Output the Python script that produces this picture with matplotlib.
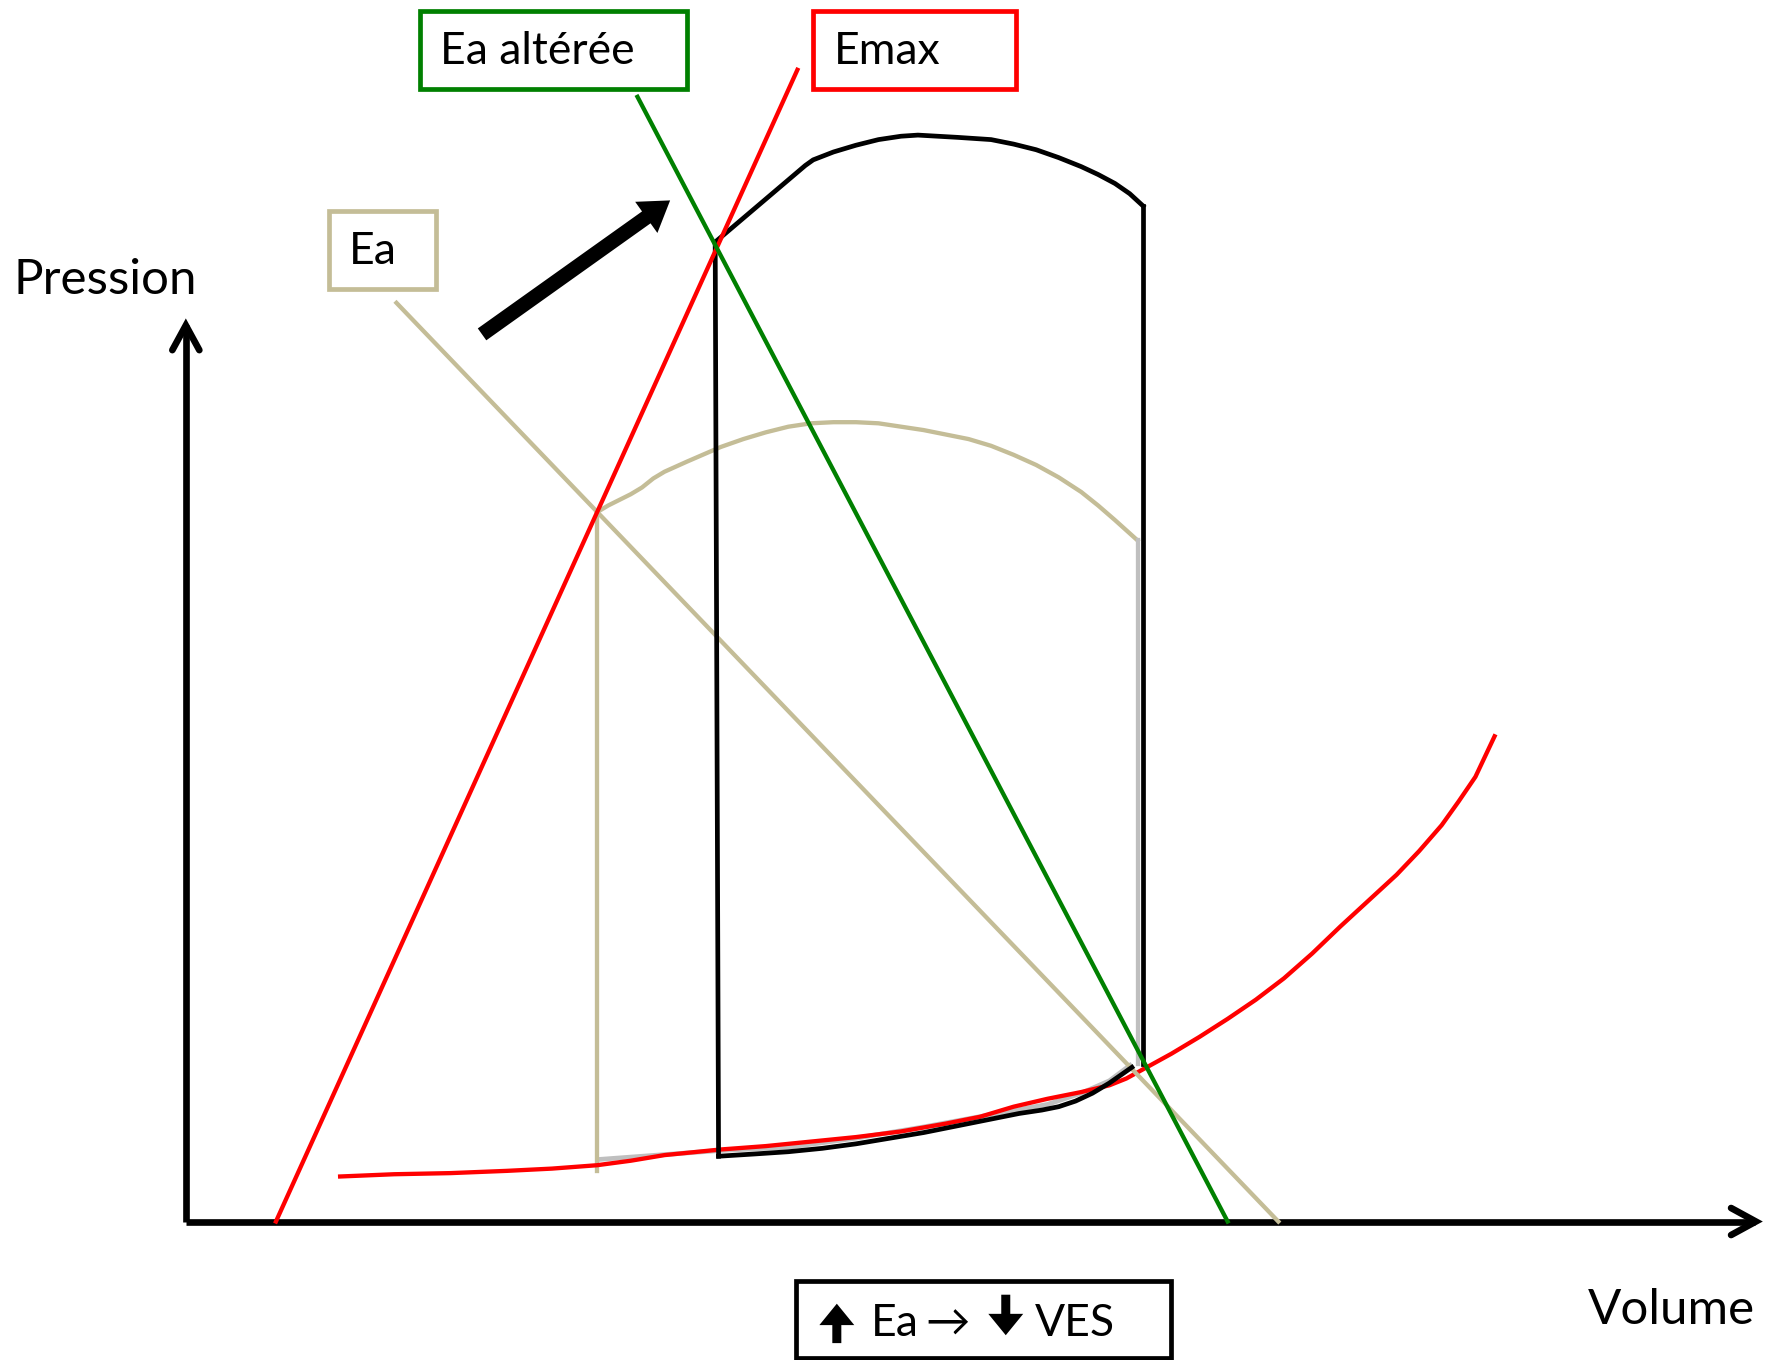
import matplotlib
matplotlib.use("Agg")
import matplotlib.pyplot as plt
from matplotlib.patches import Rectangle, FancyArrow

plt.rcParams['font.family'] = ['Lato', 'DejaVu Sans']

# ---- data (diagram coordinates, x = volume, y = pressure, y downward) ----
emax_x = [245, 708]
emax_y = [1085, 62]

ea_alt_x = [566, 1090]
ea_alt_y = [86, 1085]

ea_x = [352, 1135]
ea_y = [269, 1085]

edpvr_x = [302, 350, 400, 450, 490, 530, 560, 590, 610, 640, 680, 720, 760, 800, 840, 870,
           900, 930, 960, 985, 1000, 1020, 1040, 1065, 1090, 1115, 1140, 1165, 1190, 1215,
           1240, 1260, 1280, 1295, 1310, 1327]
edpvr_y = [1045, 1043, 1042, 1040, 1038, 1035, 1031, 1026, 1024, 1021, 1018, 1014, 1010, 1005,
           998, 992, 983, 976, 970, 964, 958, 947, 936, 921, 905, 888, 869, 847, 823, 800,
           777, 756, 733, 712, 690, 654]

# altered loop (black)
alt_eject_x = [635, 715, 722, 740, 760, 780, 800, 815, 850, 880, 900, 920, 940, 960, 975,
               990, 1003, 1015]
alt_eject_y = [215, 147, 142, 135, 129, 124, 121, 120, 122, 124, 128, 133, 140, 148, 155,
               163, 172, 183]
alt_fill_x = [638, 670, 700, 730, 760, 790, 820, 850, 880, 905, 925, 940, 955, 970, 985, 1005]
alt_fill_y = [1027, 1025, 1023, 1020, 1016, 1011, 1006, 1000, 994, 989, 986, 983, 978, 971,
              962, 948]
alt_ivc_x = [638, 635]
alt_ivc_y = [1027, 215]
alt_ivr_x = [1015, 1015]
alt_ivr_y = [183, 945]

# baseline loop (beige / gray)
base_eject_x = [530, 540, 550, 560, 570, 580, 590, 610, 640, 660, 680, 700, 720, 740, 760,
                780, 800, 820, 840, 860, 880, 900, 920, 940, 960, 975, 990, 1010]
base_eject_y = [455, 449, 444, 439, 433, 425, 419, 410, 397, 390, 384, 379, 376, 375, 375,
                376, 379, 382, 386, 390, 396, 404, 413, 424, 437, 449, 462, 480]
base_ivc_x = [530, 530]
base_ivc_y = [1040, 455]
base_ivr_x = [1010, 1010]
base_ivr_y = [480, 945]
base_fill_x = [530, 638, 700, 760, 820, 880, 930, 960, 985, 1005]
base_fill_y = [1030, 1022, 1019, 1011, 1001, 990, 981, 971, 960, 945]

GREEN = '#008000'
RED = '#FF0000'
BEIGE = '#C4BD97'
GRAY = '#BFBFBF'
LW = 3.1

fig = plt.figure(figsize=(17.66, 13.60), dpi=100)
ax = fig.add_axes([0, 0, 1, 1])
ax.set_xlim(0, 1568)
ax.set_ylim(1208, 0)
ax.axis('off')

# axes
ax.plot([165, 165], [1085, 289], color='black', lw=4.8, solid_capstyle='butt')
ax.plot([153, 165, 177], [311, 289, 311], color='black', lw=4.8,
        solid_capstyle='round', solid_joinstyle='miter')
ax.plot([165, 1558], [1085, 1085], color='black', lw=4.8, solid_capstyle='butt')
ax.plot([1537, 1559, 1537], [1073, 1085, 1097], color='black', lw=4.8,
        solid_capstyle='round', solid_joinstyle='miter')

# baseline loop
ax.plot(base_fill_x, base_fill_y, color=GRAY, lw=LW + 0.3, solid_capstyle='butt')
ax.plot(base_ivc_x, base_ivc_y, color=BEIGE, lw=LW)
ax.plot(base_eject_x, base_eject_y, color=BEIGE, lw=LW)
ax.plot(base_ivr_x, base_ivr_y, color=GRAY, lw=LW)

# EDPVR
ax.plot(edpvr_x, edpvr_y, color=RED, lw=LW)

# Ea (baseline)
ax.plot(ea_x, ea_y, color=BEIGE, lw=LW)

# altered loop
ax.plot(alt_fill_x, alt_fill_y, color='black', lw=LW + 0.3)
ax.plot(alt_ivc_x, alt_ivc_y, color='black', lw=LW + 0.3)
ax.plot(alt_eject_x, alt_eject_y, color='black', lw=LW + 0.3)
ax.plot(alt_ivr_x, alt_ivr_y, color='black', lw=LW + 0.3)

# Emax and altered Ea
ax.plot(emax_x, emax_y, color=RED, lw=LW)
ax.plot(ea_alt_x, ea_alt_y, color=GREEN, lw=LW)

# big arrow
ax.add_patch(FancyArrow(428, 297, 595 - 428, 178 - 297, width=13, head_width=34,
                        head_length=26, length_includes_head=True,
                        color='black', lw=0))

# boxes
def box(x0, y0, x1, y1, ec, lw=3.4):
    ax.add_patch(Rectangle((x0, y0), x1 - x0, y1 - y0, fill=False, ec=ec, lw=lw))

box(373, 10, 610, 79, GREEN)
box(722, 10, 902, 79, RED)
box(292, 187, 387, 257, BEIGE)
box(707, 1138, 1040, 1206, 'black')

fs = 32
ax.text(391, 46, 'Ea altérée', fontsize=fs, va='center', ha='left')
ax.text(740, 46, 'Emax', fontsize=fs, va='center', ha='left')
ax.text(310, 223, 'Ea', fontsize=fs, va='center', ha='left')
ax.text(12, 249, 'Pression', fontsize=35.5, va='center', ha='left')
ax.text(1410, 1164, 'Volume', fontsize=35.5, va='center', ha='left')

# bottom box content
ax.add_patch(FancyArrow(743, 1193, 0, -35, width=8, head_width=31, head_length=19,
                        length_includes_head=True, color='black', lw=0))
ax.text(773, 1176, 'Ea', fontsize=fs, va='center', ha='left')
ax.text(822, 1176, '\u2192', fontsize=fs, va='center', ha='left')
ax.add_patch(FancyArrow(893, 1150, 0, 36, width=8, head_width=31, head_length=19,
                        length_includes_head=True, color='black', lw=0))
ax.text(919, 1176, 'VES', fontsize=fs, va='center', ha='left')

fig.savefig('out.png', dpi=100)
